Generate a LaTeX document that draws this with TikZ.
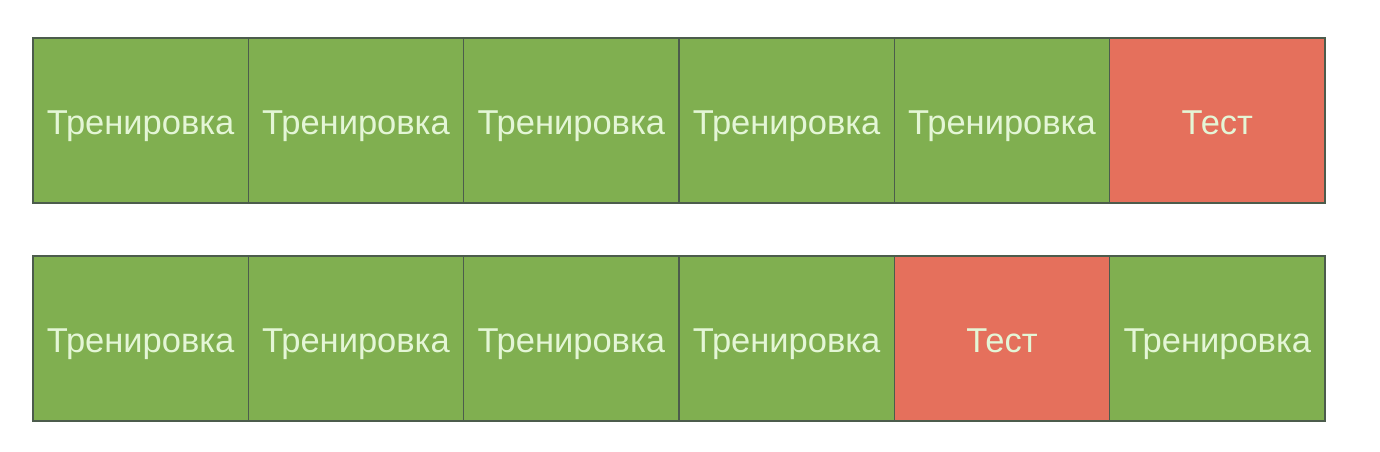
\documentclass[tikz,border=0pt]{standalone}
\usepackage{fontspec}
\setmainfont{Liberation Sans}
\definecolor{foldgreen}{HTML}{80AF50}
\definecolor{foldred}{HTML}{E5705C}
\definecolor{foldtext}{HTML}{E4F6D6}
\definecolor{foldedge}{HTML}{4C5C4C}

\begin{document}
\begin{tikzpicture}[x=1pt,y=-1pt]
		\tikzset{fold/.style={draw=foldedge,line width=1.2pt,fill=#1,minimum width=215.3pt,minimum height=165pt,inner sep=0pt,text=foldtext,text height=30pt,text depth=3pt,font=\fontsize{34.5}{34.5}\selectfont}}
		\useasboundingbox (0,0) rectangle (1380,451);
		
		\foreach \i/\c/\t in {1/foldgreen/Тренировка,2/foldgreen/Тренировка,3/foldgreen/Тренировка,4/foldgreen/Тренировка,5/foldgreen/Тренировка,6/foldred/Тест}
		\node [fold = \c] (a\i) at (33+215.33*\i-107.67,120.5) {\t};
		\foreach \i/\c/\t in {1/foldgreen/Тренировка,2/foldgreen/Тренировка,3/foldgreen/Тренировка,4/foldgreen/Тренировка,5/foldred/Тест,6/foldgreen/Тренировка}
		\node [fold = \c] (b\i) at (33+215.33*\i-107.67,338.5) {\t};
		\end{tikzpicture}
\end{document}
